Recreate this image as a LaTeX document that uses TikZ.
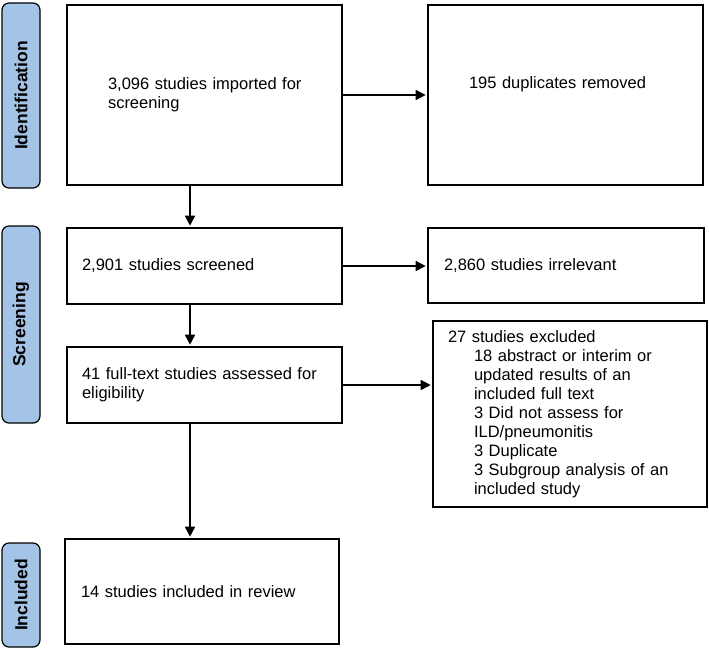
\documentclass[tikz,border=0pt]{standalone}
\usepackage{fontspec}
\setmainfont{Liberation Sans}
\usetikzlibrary{arrows.meta,positioning}
\definecolor{phaseblue}{RGB}{164,196,231}

\begin{document}
\begin{tikzpicture}[x=1pt,y=-1pt,
	phase/.style={draw=black,line width=1.2pt,fill=phaseblue,rounded corners=7pt,rotate=90,minimum height=38pt,inner sep=0pt,font=\fontsize{17.5}{20}\selectfont\bfseries},
	flowbox/.style={draw=black,line width=1.6pt,align=left,inner xsep=15pt,inner ysep=0pt,font=\fontsize{16.5}{19}\selectfont},
	flowarrow/.style={line width=1.6pt,-{Triangle[length=10pt,width=10pt]},shorten >=1.5pt}]
	\useasboundingbox (0,0) rectangle (709,651);
	
	% stage labels on the left
	\node[phase,minimum width=185pt] (ident) at (21,95.5) {Identification};
	\node[phase,minimum width=197pt] (screen) at (21,324.5) {Screening};
	\node[phase,minimum width=104pt] (incl) at (21,595) {Included};
	
	% main column
	\node[flowbox,inner xsep=41pt,text width=193pt,minimum height=180pt] (imported) at (204.5,95) {\mbox{3,096 studies imported for}\\screening};
	\node[flowbox,text width=245pt,minimum height=76pt] (screened) at (204.5,266) {2,901 studies screened};
	\node[flowbox,text width=245pt,minimum height=76pt] (fulltext) at (204.5,385) {41 full-text studies assessed for\\eligibility};
	\node[flowbox,inner xsep=16pt,text width=242pt,minimum height=105pt] (included) at (202,591.5) {14 studies included in review};
	
	% removed records
	\node[flowbox,inner xsep=41pt,text width=193pt,minimum height=180pt] (dupes) at (565.5,95) {195 duplicates removed\\\strut};
	\node[flowbox,inner xsep=16pt,text width=244pt,minimum height=75pt] (irrel) at (566,265.5) {2,860 studies irrelevant};
	\node[flowbox,text width=244pt,minimum height=186pt] (excl) at (570,414) {27 studies excluded\\
		\hspace*{26pt}18 abstract or interim or\\
		\hspace*{26pt}updated results of an\\
		\hspace*{26pt}included full text\\
		\hspace*{26pt}3 Did not assess for\\
		\hspace*{26pt}ILD/pneumonitis\\
		\hspace*{26pt}3 Duplicate\\
		\hspace*{26pt}3 Subgroup analysis of an\\
		\hspace*{26pt}included study};
	
	\coordinate (spine) at (190,0);
	\draw[flowarrow] (imported.south -| spine) -- (screened.north -| spine);
	\draw[flowarrow] (screened.south -| spine) -- (fulltext.north -| spine);
	\draw[flowarrow] (fulltext.south -| spine) -- (included.north -| spine);
	\draw[flowarrow] (imported) -- (dupes);
	\draw[flowarrow] (screened.east) -- (screened.east -| irrel.west);
	\draw[flowarrow] (fulltext.east) -- (fulltext.east -| excl.west);
\end{tikzpicture}
\end{document}
